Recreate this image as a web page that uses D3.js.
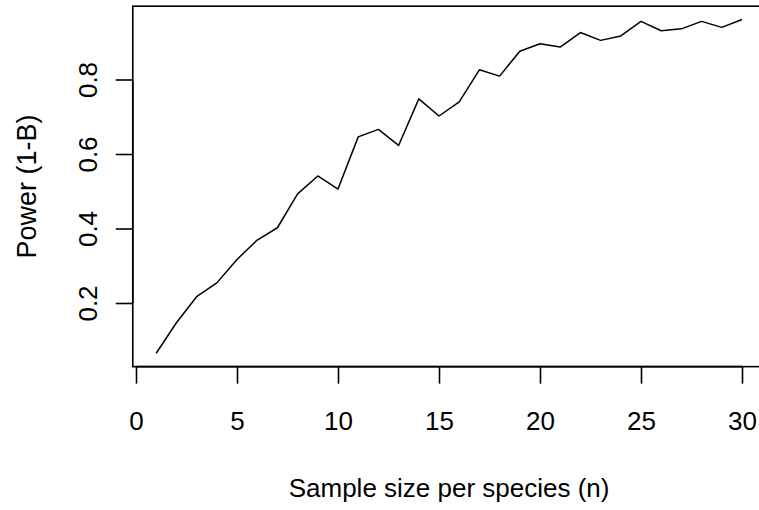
<!DOCTYPE html>
<html>
<head>
<meta charset="utf-8">
<script src="https://cdn.jsdelivr.net/npm/d3@7"></script>
<style>
  html, body { margin: 0; padding: 0; background: #fff; }
  svg { display: block; }
  text { font-family: "Liberation Sans", Arial, Helvetica, sans-serif; fill: #000; }
</style>
</head>
<body>
<svg id="chart" width="759" height="510"></svg>
<script>
// Data
const sampleSize = [1,2,3,4,5,6,7,8,9,10,11,12,13,14,15,16,17,18,19,20,21,22,23,24,25,26,27,28,29,30];
const power = [0.065,0.147,0.217,0.254,0.317,0.369,0.402,0.493,0.541,0.506,
               0.646,0.666,0.623,0.748,0.702,0.740,0.826,0.809,0.876,0.896,
               0.887,0.926,0.905,0.917,0.956,0.931,0.936,0.956,0.940,0.961];
const xTicks = [0,5,10,15,20,25,30];
const yTicks = [0.2,0.4,0.6,0.8];
const xLabel = "Sample size per species (n)";
const yLabel = "Power (1-B)";

const svg = d3.select("#chart");
const fontSize = 26;

// R-style 4% axis extension
const xmin = d3.min(sampleSize), xmax = d3.max(sampleSize);
const ymin = d3.min(power), ymax = d3.max(power);
const xpad = (xmax - xmin) * 0.04, ypad = (ymax - ymin) * 0.04;

const x = d3.scaleLinear().domain([0, 30]).range([136, 742]);
const y = d3.scaleLinear().domain([0.2, 0.8]).range([303, 79.5]);

const bx0 = x(xmin - xpad), bx1 = x(xmax + xpad);
const by0 = y(ymax + ypad), by1 = y(ymin - ypad);

// Plot box
svg.append("rect")
  .attr("x", bx0).attr("y", by0)
  .attr("width", bx1 - bx0).attr("height", by1 - by0)
  .attr("fill", "none").attr("stroke", "#000").attr("stroke-width", 1.6);

// Line
const line = d3.line().x((d, i) => x(sampleSize[i])).y(d => y(d));
svg.append("path")
  .datum(power)
  .attr("d", line)
  .attr("fill", "none")
  .attr("stroke", "#000")
  .attr("stroke-width", 1.5)
  .attr("stroke-linejoin", "round");

// X axis
const xAxis = d3.axisBottom(x).tickValues(xTicks).tickSize(17).tickPadding(28).tickFormat(d3.format("d"));
const gx = svg.append("g").attr("transform", `translate(0,${by1})`).call(xAxis);
gx.select(".domain").attr("d", `M${x(xTicks[0])},0H${x(xTicks[xTicks.length-1])}`).attr("stroke-width", 1.6);
gx.selectAll(".tick line").attr("stroke-width", 1.6);
gx.selectAll(".tick text").attr("font-size", fontSize).attr("font-family", "Liberation Sans, Arial, sans-serif");

// Y axis
const yAxis = d3.axisLeft(y).tickValues(yTicks).tickSize(17).tickFormat(d3.format(".1f"));
const gy = svg.append("g").attr("transform", `translate(${bx0},0)`).call(yAxis);
gy.select(".domain").attr("d", `M0,${y(yTicks[0])}V${y(yTicks[yTicks.length-1])}`).attr("stroke-width", 1.6);
gy.selectAll(".tick line").attr("stroke-width", 1.6);
gy.selectAll(".tick text")
  .attr("font-size", fontSize)
  .attr("font-family", "Liberation Sans, Arial, sans-serif")
  .attr("x", null).attr("dy", null)
  .attr("text-anchor", "middle")
  .attr("transform", "translate(-36,0) rotate(-90)");

// Axis titles
svg.append("text")
  .attr("x", (bx0 + bx1) / 2).attr("y", 497)
  .attr("text-anchor", "middle")
  .attr("font-size", fontSize)
  .text(xLabel);

svg.append("text")
  .attr("transform", `translate(36,${(by0 + by1) / 2}) rotate(-90)`)
  .attr("text-anchor", "middle")
  .attr("font-size", 27)
  .text(yLabel);
</script>
</body>
</html>
